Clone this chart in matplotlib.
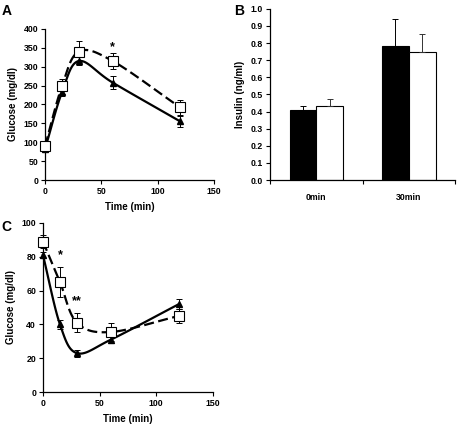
import numpy as np
import matplotlib
matplotlib.use('Agg')
import matplotlib.pyplot as plt

plt.rcParams['font.family'] = ['Liberation Sans', 'DejaVu Sans']
plt.rcParams['font.weight'] = 'bold'

# panel A - glucose tolerance
time_a = [0, 15, 30, 60, 120]
tri_a = [82, 232, 315, 258, 155]
tri_a_err = [8, 10, 10, 18, 15]
sq_a = [90, 248, 340, 315, 192]
sq_a_err = [10, 20, 28, 22, 20]

# panel B - insulin
groups_b = ['0min', '30min']
black_b = [0.41, 0.785]
black_b_err = [0.025, 0.155]
white_b = [0.435, 0.745]
white_b_err = [0.04, 0.105]

# panel C - insulin tolerance
time_c = [0, 15, 30, 60, 120]
tri_c = [81, 40, 23, 31, 52]
tri_c_err = [2, 2.5, 2, 2, 3]
sq_c = [89, 65, 41, 35.5, 45]
sq_c_err = [4, 9, 5.5, 5.5, 4]


def smooth(x, y, n=30):
    # catmull-rom curve through the points (like excel "smoothed line")
    x = np.asarray(x, float)
    y = np.asarray(y, float)
    px = np.concatenate([[2 * x[0] - x[1]], x, [2 * x[-1] - x[-2]]])
    py = np.concatenate([[2 * y[0] - y[1]], y, [2 * y[-1] - y[-2]]])
    xs, ys = [], []
    t = np.linspace(0, 1, n)
    for i in range(1, len(px) - 2):
        for p, out in ((px, xs), (py, ys)):
            p0, p1, p2, p3 = p[i - 1], p[i], p[i + 1], p[i + 2]
            out.extend(0.5 * ((2 * p1) + (-p0 + p2) * t
                              + (2 * p0 - 5 * p1 + 4 * p2 - p3) * t ** 2
                              + (-p0 + 3 * p1 - 3 * p2 + p3) * t ** 3))
    return xs, ys


def style(ax):
    ax.spines['top'].set_visible(False)
    ax.spines['right'].set_visible(False)
    ax.spines['left'].set_linewidth(0.9)
    ax.spines['bottom'].set_linewidth(0.9)
    ax.tick_params(direction='out', length=3, width=0.8, labelsize=6.3, pad=2)
    for lab in ax.get_xticklabels() + ax.get_yticklabels():
        lab.set_fontweight('bold')


def glucose(ax, t, tri, tri_err, sq, sq_err):
    sx, sy = smooth(t, tri)
    ax.plot(sx, sy, color='black', lw=1.6, zorder=2, clip_on=False)
    sx, sy = smooth(t, sq)
    ax.plot(sx, sy, color='black', lw=1.6, dashes=(4.5, 2), zorder=2, clip_on=False)
    for vals, err in ((tri, tri_err), (sq, sq_err)):
        eb = ax.errorbar(t, vals, yerr=err, fmt='none', ecolor='black',
                         elinewidth=0.7, capsize=2, capthick=0.7, zorder=3)
        for art in eb.lines[1] + eb.lines[2]:
            art.set_clip_on(False)
    ax.plot(t, tri, linestyle='none', marker='^', ms=5, color='black',
            zorder=4, clip_on=False)
    ax.plot(t, sq, linestyle='none', marker='s', ms=6.5, mfc='white',
            mec='black', mew=0.8, zorder=5, clip_on=False)
    ax.set_xlim(0, 150)
    ax.set_xticks([0, 50, 100, 150])
    ax.set_xlabel('Time (min)', fontsize=7, fontweight='bold', labelpad=4)
    ax.set_ylabel('Glucose (mg/dl)', fontsize=7, fontweight='bold', labelpad=4)


fig = plt.figure(figsize=(4.57, 4.28), dpi=100)

axA = fig.add_axes([0.0985, 0.5794, 0.370, 0.353])
glucose(axA, time_a, tri_a, tri_a_err, sq_a, sq_a_err)
axA.set_ylim(0, 400)
axA.set_yticks(range(0, 401, 50))
axA.text(60, 352, '*', ha='center', va='center', fontsize=9, fontweight='bold')
style(axA)

axB = fig.add_axes([0.591, 0.5794, 0.405, 0.40])
pos = np.arange(len(groups_b)) + 0.5
w = 0.29
axB.bar(pos - w / 2, black_b, w, color='black', edgecolor='black', lw=0.8)
axB.bar(pos + w / 2, white_b, w, color='white', edgecolor='black', lw=0.8)
axB.errorbar(pos - w / 2, black_b, yerr=[[0, 0], black_b_err], fmt='none',
             ecolor='black', elinewidth=0.7, capsize=2, capthick=0.7)
axB.errorbar(pos + w / 2, white_b, yerr=[[0, 0], white_b_err], fmt='none',
             ecolor='#333333', elinewidth=0.7, capsize=2, capthick=0.7)
axB.set_xlim(0, 2)
axB.set_ylim(0, 1.0)
axB.set_yticks(np.arange(0, 1.01, 0.1))
axB.set_yticklabels(['%.1f' % v for v in np.arange(0, 1.01, 0.1)])
axB.set_xticks([0, 1, 2])
axB.set_xticklabels([])
axB.set_xticks(pos, minor=True)
axB.set_xticklabels(groups_b, minor=True, fontsize=6.3, fontweight='bold')
axB.tick_params(axis='x', which='minor', length=0, pad=9)
axB.set_ylabel('Insulin (ng/ml)', fontsize=7, fontweight='bold', labelpad=4)
style(axB)

axC = fig.add_axes([0.094, 0.0841, 0.372, 0.395])
glucose(axC, time_c, tri_c, tri_c_err, sq_c, sq_c_err)
axC.set_ylim(0, 100)
axC.set_yticks(range(0, 101, 20))
axC.text(15, 81, '*', ha='center', va='center', fontsize=9, fontweight='bold')
axC.text(30, 53.5, '**', ha='center', va='center', fontsize=9, fontweight='bold')
style(axC)

fig.text(0.004, 0.99, 'A', fontsize=10, fontweight='bold', va='top')
fig.text(0.512, 0.99, 'B', fontsize=10, fontweight='bold', va='top')
fig.text(0.004, 0.487, 'C', fontsize=10, fontweight='bold', va='top')

fig.savefig('out.png', dpi=100)
